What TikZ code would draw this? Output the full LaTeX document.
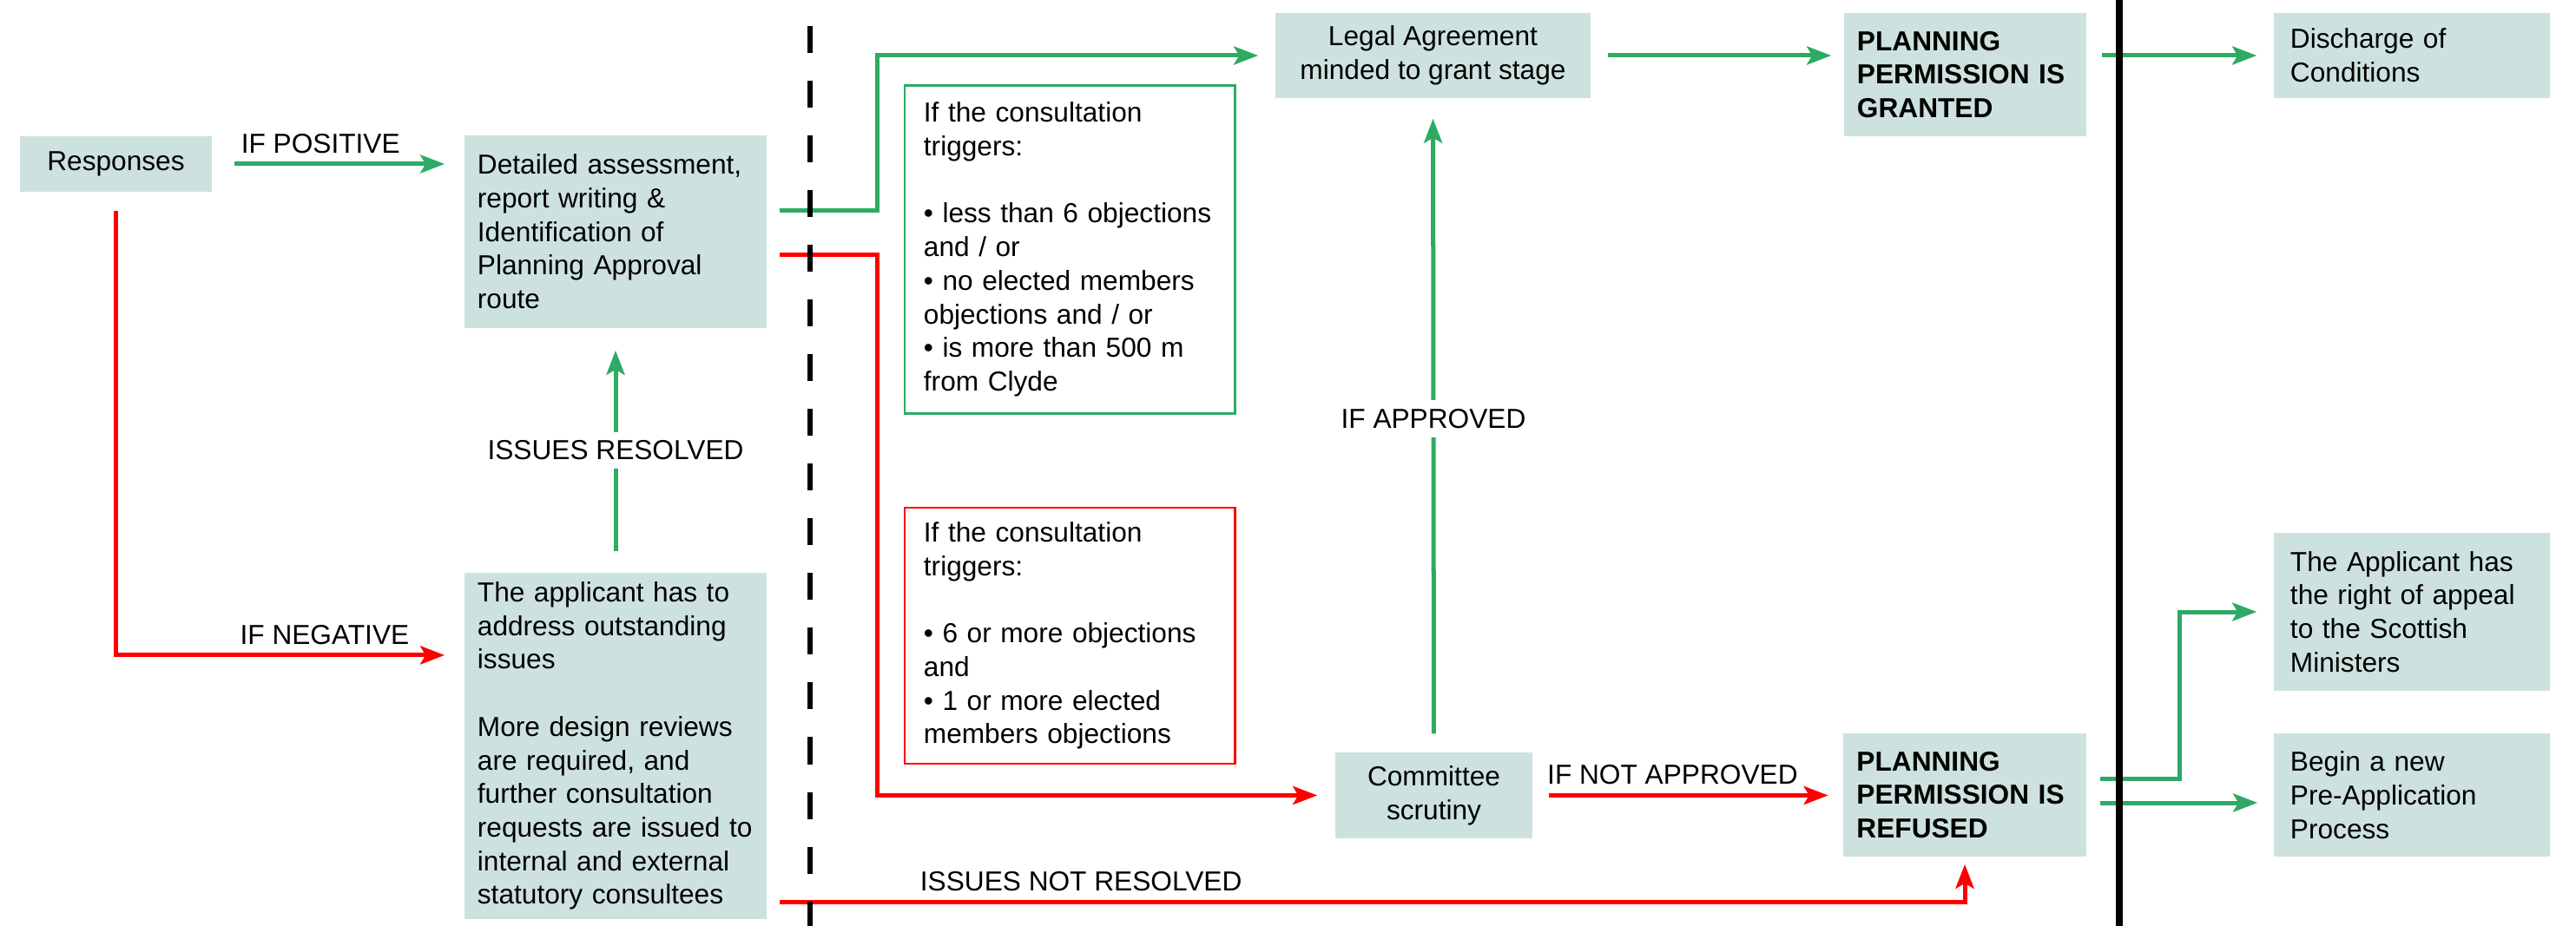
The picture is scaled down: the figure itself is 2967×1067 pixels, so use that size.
\documentclass[tikz,border=0pt]{standalone}
\usepackage{fontspec}
\setmainfont{Liberation Sans}
\usetikzlibrary{arrows.meta}
\definecolor{plteal}{RGB}{205,226,223}
\definecolor{plgreen}{RGB}{46,170,100}
\definecolor{plred}{RGB}{255,0,0}

\begin{document}
\begin{tikzpicture}[x=0.01cm, y=-0.01cm,
  stagebox/.style={fill=plteal, inner xsep=0.15cm, inner ysep=0pt, align=left, font=\fontsize{9}{11}\selectfont},
  midbox/.style={stagebox, align=center},
  verdict/.style={stagebox, font=\fontsize{9}{11}\selectfont\bfseries},
  notebox/.style={draw=#1, line width=0.028cm, inner xsep=0.22cm, inner ysep=0pt, align=left, font=\fontsize{9}{11}\selectfont},
  goline/.style={draw=plgreen, line width=0.05cm, -{Stealth[length=0.28cm, width=0.21cm, inset=0.06cm]}, shorten <=0.2cm, shorten >=0.2cm},
  stopline/.style={goline, draw=plred},
  cond/.style={font=\fontsize{9}{11}\selectfont, inner sep=0.1cm}]
  \useasboundingbox (0,0) rectangle (2967,1067);

  % first column
  \node[midbox, minimum width=2.21cm, minimum height=0.64cm] (resp) at (133.5,189) {Responses};
  \node[stagebox, text width=3.18cm, minimum height=2.22cm] (assess) at (709,267) {Detailed assessment,\\report writing \&\\Identification of\\Planning Approval\\route};
  \node[stagebox, text width=3.18cm, minimum height=3.99cm] (applicant) at (709,859.5) {The applicant has to\\address outstanding\\issues\\[11pt]More design reviews\\are required, and\\further consultation\\requests are issued to\\internal and external\\statutory consultees};

  % trigger notes
  \node[notebox=plgreen, text width=3.36cm, minimum height=3.77cm] (greennote) at (1232,287.5) {If the consultation\\triggers:\\[11pt]• less than 6 objections\\and / or\\• no elected members\\objections and / or\\• is more than 500 m\\from Clyde};
  \node[notebox=plred, text width=3.36cm, minimum height=2.95cm] (rednote) at (1232,732.5) {If the consultation\\triggers:\\[11pt]• 6 or more objections\\and\\• 1 or more elected\\members objections};

  % decision column
  \node[midbox, minimum width=3.63cm, minimum height=0.98cm] (legal) at (1650.5,64) {Legal Agreement\\minded to grant stage};
  \node[midbox, minimum width=2.27cm, minimum height=0.99cm] (committee) at (1651.5,916.5) {Committee\\scrutiny};
  \node[verdict, text width=2.49cm, minimum height=1.42cm] (granted) at (2263.5,86) {PLANNING\\PERMISSION IS\\GRANTED};
  \node[verdict, text width=2.49cm, minimum height=1.42cm] (refused) at (2263,916) {PLANNING\\PERMISSION IS\\REFUSED};

  % after the decision
  \node[stagebox, inner xsep=0.19cm, text width=2.80cm, minimum height=0.98cm] (discharge) at (2778,64) {Discharge of\\Conditions};
  \node[stagebox, inner xsep=0.19cm, text width=2.80cm, minimum height=1.82cm] (appeal) at (2778,705) {The Applicant has\\the right of appeal\\to the Scottish\\Ministers};
  \node[stagebox, inner xsep=0.19cm, text width=2.80cm, minimum height=1.42cm] (begin) at (2778,916) {Begin a new\\Pre-Application\\Process};

  % connectors
  \draw[goline, shorten <=0.25cm, shorten >=0.22cm] (resp.east) -- (resp.east -| assess.west) node[cond, above, pos=0.43] {IF POSITIVE};
  \draw[stopline, shorten <=0.21cm, shorten >=0.22cm] (resp.south) |- ([yshift=1.045cm]applicant.west) node[cond, above, pos=0.8] {IF NEGATIVE};
  \draw[goline, shorten <=0.24cm, shorten >=0.25cm] (applicant.north) -- (assess.south) node[cond, midway, fill=white] {ISSUES RESOLVED};
  \draw[goline, shorten <=0.14cm, shorten >=0.19cm] ([yshift=0.24cm]assess.east) -- ++(127,0) |- (legal.west);
  \draw[stopline, shorten <=0.14cm, shorten >=0.2cm] ([yshift=-0.26cm]assess.east) -- ++(127,0) |- (committee.west);
  \draw[goline, shorten <=0.21cm, shorten >=0.23cm] (committee.north) -- (legal.south) node[cond, pos=0.51, fill=white] {IF APPROVED};
  \draw[stopline, shorten <=0.18cm, shorten >=0.17cm] (committee.east) -- (committee.east -| refused.west) node[cond, above, pos=0.45] {IF NOT APPROVED};
  \draw[stopline, shorten <=0.14cm, shorten >=0.08cm] ([yshift=-1.795cm]applicant.east) -| (refused.south) node[cond, above, pos=0.131] {ISSUES NOT RESOLVED};
  \draw[goline, shorten <=0.19cm, shorten >=0.14cm] (legal.east) -- (legal.east -| granted.west);
  \draw[goline, shorten <=0.17cm, shorten >=0.19cm] (discharge.west -| granted.east) -- (discharge.west);
  \draw[goline, shorten <=0.16cm, shorten >=0.19cm] ([yshift=0.18cm]refused.east) -- ++(107,0) |- (appeal.west);
  \draw[goline, shorten <=0.16cm, shorten >=0.18cm] ([yshift=-0.09cm]refused.east) -- ([yshift=-0.09cm]begin.west);

  % dividers
  \draw[line width=0.055cm, dash pattern=on 0.31cm off 0.32cm] (933,30) -- (933,1067);
  \draw[line width=0.085cm] (2441,0) -- (2441,1067);
\end{tikzpicture}
\end{document}
